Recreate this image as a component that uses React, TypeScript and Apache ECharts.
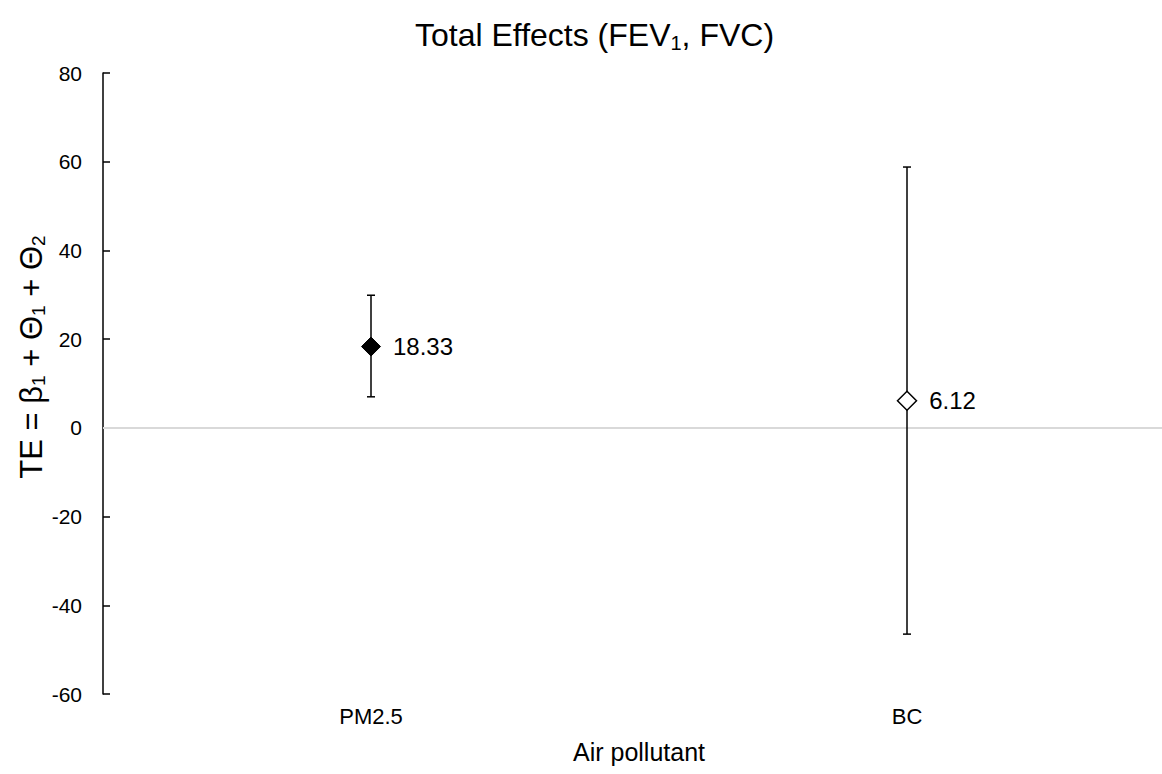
import React, { useEffect, useRef } from "react";
import * as echarts from "echarts";

const categories = ["PM2.5", "BC"];
const estimates = [18.33, 6.12];
const lowerCI = [7.0, -46.5];
const upperCI = [29.9, 58.8];
const yTicks = { min: -60, max: 80, interval: 20 };

const FONT = "'Liberation Sans', Arial, sans-serif";

export default function App() {
  const ref = useRef<HTMLDivElement>(null);
  useEffect(() => {
    if (!ref.current) return;
    const chart = echarts.init(ref.current, null, { renderer: "svg" });
    const errData = categories.map((c, i) => [i, lowerCI[i], upperCI[i]]);
    const option: any = {
      animation: false,
      backgroundColor: "#ffffff",
      textStyle: { fontFamily: FONT },
      title: {
        text: "Total Effects (FEV{sub|1}, FVC)",
        left: 410,
        top: 12,
        textStyle: {
          fontFamily: FONT,
          fontSize: 32,
          lineHeight: 36,
          fontWeight: "normal",
          color: "#000",
          rich: {
            sub: { fontSize: 20, verticalAlign: "bottom", lineHeight: 14, fontFamily: FONT, color: "#000" },
          },
        },
      },
      grid: { left: 103, width: 1072, top: 73, bottom: 80, containLabel: false, outerBoundsMode: "none" },
      xAxis: {
        type: "category",
        data: categories,
        boundaryGap: true,
        axisLine: { show: false },
        axisTick: { show: false },
        axisLabel: { color: "#000", fontSize: 22, margin: 11, fontFamily: FONT },
        name: "Air pollutant",
        nameLocation: "middle",
        nameGap: 45,
        nameTextStyle: { color: "#000", fontSize: 25, fontFamily: FONT },
        splitLine: { show: false },
      },
      yAxis: {
        type: "value",
        min: yTicks.min,
        max: yTicks.max,
        interval: yTicks.interval,
        axisLine: { show: true, onZero: false, lineStyle: { color: "#000", width: 1.5 } },
        axisTick: { show: true, inside: true, length: 7, lineStyle: { color: "#000", width: 1.5 } },
        axisLabel: { color: "#000", fontSize: 21, margin: 21, fontFamily: FONT },
        splitLine: { show: false },
      },
      graphic: [
        {
          type: "text",
          x: 31,
          y: 357,
          rotation: Math.PI / 2,
          style: {
            text: "TE = β{sub|1} + Θ{sub|1} + Θ{sub|2}",
            fontFamily: FONT,
            fontSize: 31,
            lineHeight: 34,
            fill: "#000",
            align: "center",
            verticalAlign: "middle",
            rich: {
              sub: { fontSize: 19, verticalAlign: "bottom", lineHeight: 14, fontFamily: FONT, fill: "#000" },
            },
          },
        },
      ],
      series: [
        {
          type: "custom",
          data: errData,
          z: 2,
          renderItem: (params: any, api: any) => {
            const idx = api.value(0);
            const lo = api.coord([idx, api.value(1)]);
            const hi = api.coord([idx, api.value(2)]);
            const cap = 4;
            const style = { stroke: "#000", lineWidth: 1.5 };
            return {
              type: "group",
              children: [
                { type: "line", shape: { x1: lo[0], y1: lo[1], x2: hi[0], y2: hi[1] }, style },
                { type: "line", shape: { x1: hi[0] - cap, y1: hi[1], x2: hi[0] + cap, y2: hi[1] }, style },
                { type: "line", shape: { x1: lo[0] - cap, y1: lo[1], x2: lo[0] + cap, y2: lo[1] }, style },
              ],
            };
          },
          encode: { x: 0, y: [1, 2] },
        },
        {
          type: "scatter",
          z: 5,
          symbol: "diamond",
          symbolSize: 19,
          data: estimates.map((v, i) => ({
            value: [i, v],
            itemStyle:
              i === 0
                ? { color: "#000", borderColor: "#000", borderWidth: 1, opacity: 1 }
                : { color: "#fff", borderColor: "#000", borderWidth: 1.5, opacity: 1 },
          })),
          label: {
            show: true,
            position: "right",
            distance: 12,
            color: "#000",
            fontSize: 24,
            fontFamily: FONT,
            formatter: (p: any) => p.value[1].toFixed(2),
          },
          markLine: {
            silent: true,
            symbol: ["none", "none"],
            label: { show: false },
            lineStyle: { color: "#d9d9d9", width: 2, type: "solid", opacity: 1 },
            data: [{ yAxis: 0 }],
            z: 1,
          },
        },
      ],
    };
    chart.setOption(option);
    return () => chart.dispose();
  }, []);
  return (
    <div
      ref={ref}
      style={{ position: "absolute", left: 0, top: 0, width: 1162, height: 774, overflow: "hidden" }}
    />
  );
}
